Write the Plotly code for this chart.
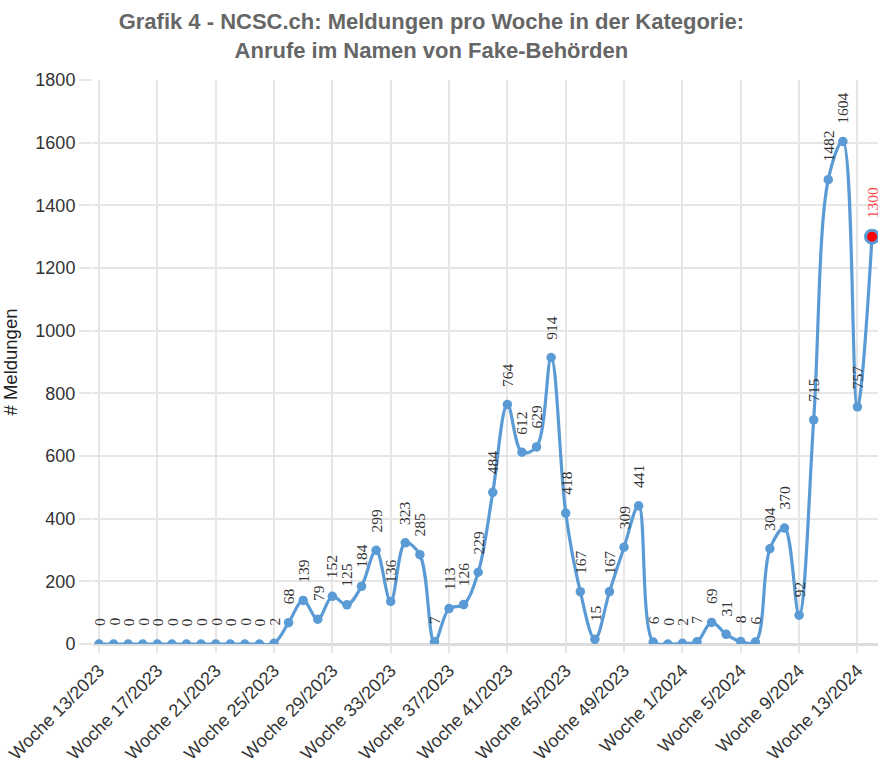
#!/usr/bin/env python3
"""
plot.py

NCSC.ch weekly reports, category: calls in the name of fake authorities
"""

import plotly.graph_objects as go


WEEKS_2023 = [f"Woche {w}/2023" for w in range(13, 53)]
WEEKS_2024 = [f"Woche {w}/2024" for w in range(1, 15)]
WEEKS = WEEKS_2023 + WEEKS_2024

REPORTS_2023 = [
    0, 0, 0, 0, 0, 0, 0, 0, 0, 0, 0, 0,
    2, 68, 139, 79, 152, 125, 184, 299, 136, 323, 285, 7,
    113, 126, 229, 484, 764, 612, 629, 914, 418, 167, 15, 167,
    309, 441, 6, 0,
]
REPORTS_2024 = [2, 7, 69, 31, 8, 6, 304, 370, 92, 715, 1482, 1604, 757, 1300]
REPORTS = REPORTS_2023 + REPORTS_2024

TITLE = ("Grafik 4 - NCSC.ch: Meldungen pro Woche in der Kategorie:"
         "<br>Anrufe im Namen von Fake-Behörden")

BLUE = "#5b9bd5"
GRID = "#e6e6e6"


def main():

    fig = go.Figure()

    fig.add_trace(
        go.Scatter(
            x=WEEKS,
            y=REPORTS,
            mode="lines+markers",
            line=dict(color=BLUE, width=3.2, shape="spline", smoothing=1.0),
            marker=dict(size=9.5, color=BLUE),
            hovertemplate="%{x}: %{y}<extra></extra>",
        )
    )

    # highlight the latest week
    fig.add_trace(
        go.Scatter(
            x=[WEEKS[-1]],
            y=[REPORTS[-1]],
            mode="markers",
            marker=dict(size=13, color="#ff0000", line=dict(color=BLUE, width=3)),
            hoverinfo="skip",
        )
    )

    last = len(REPORTS) - 1
    for i, (wk, val) in enumerate(zip(WEEKS, REPORTS)):
        fig.add_annotation(
            x=wk,
            y=val,
            text=str(val),
            textangle=-90,
            showarrow=False,
            xanchor="center",
            yanchor="bottom",
            yshift=16,
            font=dict(family="Liberation Serif", size=15.5,
                      color="#ff4a4a" if i == last else "#333333"),
        )

    fig.update_layout(
        title=dict(
            text=TITLE,
            x=0.488,
            xanchor="center",
            xref="container",
            y=0.962,
            yanchor="top",
            yref="container",
            font=dict(family="Liberation Sans", size=22, color="#666666",
                      weight="bold"),
        ),
        width=884,
        height=765,
        margin=dict(l=93, r=6, t=80, b=121),
        showlegend=False,
        plot_bgcolor="white",
        paper_bgcolor="white",
        font=dict(family="Liberation Sans", color="#333333"),
    )

    fig.update_xaxes(
        type="category",
        categoryorder="array",
        categoryarray=WEEKS,
        range=[-0.41, len(WEEKS) - 0.59],
        tickmode="array",
        tickvals=WEEKS[::4],
        ticktext=WEEKS[::4],
        tickangle=-45,
        tickfont=dict(size=18, color="#333333"),
        automargin=False,
        showgrid=True,
        gridcolor=GRID,
        gridwidth=1.6,
        ticks="outside",
        ticklen=8,
        tickwidth=1.6,
        tickcolor=GRID,
        showline=False,
        zeroline=False,
    )

    fig.update_yaxes(
        range=[0, 1800],
        dtick=200,
        tickfont=dict(size=18, color="#333333"),
        title=dict(text="# Meldungen", font=dict(size=18.5, color="#222222"),
                   standoff=19),
        automargin=False,
        showgrid=True,
        gridcolor=GRID,
        gridwidth=2,
        ticks="outside",
        ticklen=13,
        tickwidth=2,
        tickcolor=GRID,
        zeroline=True,
        zerolinecolor="#dcdcdc",
        zerolinewidth=3,
        showline=False,
    )

    # drop the default 8px body margin so the figure sits at the window corner
    fig.write_html(
        "out.html",
        config={"displayModeBar": False},
        post_script="document.body.style.margin = '0';",
    )


if __name__ == "__main__":
    main()
